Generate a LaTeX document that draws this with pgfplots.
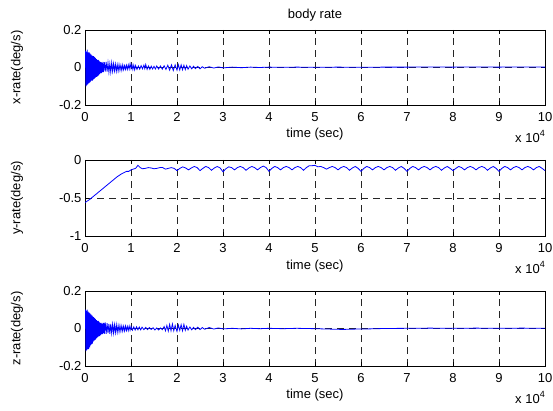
\documentclass[border=0pt]{standalone}
\usepackage{pgfplots}
\pgfplotsset{compat=1.18}
\usepackage{fontspec}
\setmainfont{Liberation Sans}

\newcommand{\lbl}{\fontsize{13}{15}\selectfont}
\newcommand{\tenfour}{\lbl x 10\raisebox{6pt}{\fontsize{9}{9}\selectfont 4}}

\pgfplotsset{
 mystyle/.style={
  scale only axis, width=460pt, height=75pt,
  xmin=0, xmax=10, xtick={0,1,...,10},
  clip mode=individual,
  grid=major,
  major grid style={black!85, dash pattern=on 7pt off 5pt, line width=0.5pt},
  tick align=inside, major tick length=4pt,
  axis line style={line width=0.9pt},
  every tick/.style={black, line width=0.6pt},
  tick label style={font=\lbl},
  label style={font=\lbl},
  title style={font=\lbl},
  /pgf/number format/assume math mode=true,
  xticklabel style={yshift=-4pt},
  xlabel={time (sec)},
  xlabel style={at={(axis description cs:0.5,-0.39)}, anchor=center},
  ylabel style={at={(axis description cs:-0.148,0.5)}, anchor=center},
 }
}

\begin{document}
\begin{tikzpicture}
\useasboundingbox (0,0) rectangle (553pt,-411pt);

% ---------- x-rate ----------
\begin{axis}[mystyle, at={(85pt,-30pt)}, anchor=north west,
  ymin=-0.2, ymax=0.2, ytick={-0.2,0,0.2}, yticklabels={-0.2,0,0.2},
  ylabel={x-rate(deg/s)},
  title={body rate}, title style={at={(axis description cs:0.5,1.12)}, anchor=center}]
\addplot[blue, line width=0.8pt] coordinates {
(0,0)(0.01,0.09)(0.02,-0.1)(0.03,0.085)(0.04,-0.095)(0.05,0.095)(0.06,-0.09)(0.07,0.08)(0.08,-0.085)(0.09,0.08)
(0.1,-0.08)(0.11,0.075)(0.12,-0.075)(0.13,0.07)(0.14,-0.07)(0.15,0.065)(0.16,-0.07)(0.17,0.06)(0.18,-0.065)(0.19,0.06)
(0.2,-0.06)(0.21,0.055)(0.22,-0.055)(0.23,0.05)(0.24,-0.05)(0.25,0.045)(0.26,-0.05)(0.27,0.04)(0.28,-0.045)(0.29,0.04)
(0.3,-0.04)(0.31,0.035)(0.32,-0.035)(0.33,0.03)(0.34,-0.03)(0.35,0.028)(0.36,-0.03)(0.37,0.025)(0.38,-0.025)(0.39,0.03)
(0.4,-0.025)(0.42,0.028)(0.44,-0.022)(0.46,0.03)(0.48,-0.022)(0.5,0.025)(0.52,-0.025)(0.54,0.02)(0.56,-0.024)(0.58,0.025)
(0.6,-0.02)(0.62,0.02)(0.64,-0.018)(0.66,0.018)(0.68,-0.02)(0.7,0.015)(0.72,-0.018)(0.74,0.016)(0.76,-0.015)(0.78,0.012)
(0.8,-0.015)(0.82,0.014)(0.84,-0.012)(0.86,0.01)(0.88,-0.01)(0.9,0.012)(0.92,-0.01)(0.94,0.014)(0.96,-0.008)(0.98,0.02)
(1,-0.006)(1.02,0.016)(1.04,-0.01)(1.06,0.012)(1.08,-0.012)(1.1,0.01)(1.13,-0.01)(1.16,0.008)(1.19,-0.009)(1.22,0.01)
(1.25,-0.007)(1.28,0.012)(1.3,-0.006)(1.32,0.016)(1.35,-0.01)(1.38,0.008)(1.41,-0.01)(1.44,0.007)(1.47,-0.008)(1.5,0.006)
(1.53,-0.008)(1.56,0.008)(1.6,-0.008)(1.64,0.008)(1.68,-0.009)(1.72,0.009)(1.76,-0.01)(1.8,0.012)(1.84,-0.014)(1.88,0.014)
(1.92,-0.016)(1.96,0.014)(2,-0.014)(2.03,0.015)(2.06,-0.013)(2.09,0.014)(2.12,-0.012)(2.15,0.012)(2.18,-0.011)(2.21,0.01)
(2.24,-0.009)(2.28,0.008)(2.32,-0.007)(2.36,0.007)(2.4,-0.006)(2.45,0.006)(2.5,-0.007)(2.55,0.004)(2.6,-0.004)(2.7,0.004)
(2.8,-0.003)(2.9,0.003)(3,-0.002)(3.2,0.002)(3.4,-0.001)(3.6,0.002)(3.8,0)(4,0.002)(4.3,0.001)(4.6,0.002)
(5,0.001)(5.5,0.002)(6,0.001)(6.5,0.002)(7,0.002)(7.5,0.003)(8,0.002)(8.5,0.003)(9,0.002)(9.5,0.003)(10,0.002)
};
\node[anchor=north east, inner sep=0pt] at (rel axis cs:1,0) [yshift=-25pt] {\tenfour};
\end{axis}

% ---------- y-rate ----------
\begin{axis}[mystyle, at={(85pt,-160pt)}, anchor=north west, height=76pt,
  ymin=-1, ymax=0, ytick={-1,-0.5,0}, yticklabels={-1,-0.5,0},
  ylabel={y-rate(deg/s)}]
\addplot[blue, line width=0.8pt] coordinates {
(0,-0.56)(0.1,-0.52)(0.2,-0.47)(0.3,-0.42)(0.4,-0.37)(0.5,-0.32)(0.6,-0.27)(0.7,-0.22)(0.8,-0.18)(0.9,-0.15)
(0.95,-0.15)(1.0,-0.13)(1.05,-0.12)(1.1,-0.11)(1.15,-0.07)(1.2,-0.1)
(1.25,-0.115)(1.3125,-0.11)(1.375,-0.1)(1.4375,-0.105)
(1.5,-0.115)(1.5625,-0.11)(1.625,-0.1)(1.6875,-0.1)
(1.75,-0.12)(1.8125,-0.11)(1.875,-0.1)(1.9375,-0.11)
(2,-0.14)(2.0625,-0.11)(2.125,-0.09)(2.1875,-0.105)
(2.25,-0.13)(2.3125,-0.105)(2.375,-0.085)(2.4375,-0.1)
(2.5,-0.14)(2.5625,-0.11)(2.625,-0.085)(2.6875,-0.1)
(2.75,-0.135)(2.8125,-0.105)(2.875,-0.085)(2.9375,-0.105)
(3,-0.155)(3.0625,-0.115)(3.125,-0.09)(3.1875,-0.1)
(3.25,-0.13)(3.3125,-0.1)(3.375,-0.085)(3.4375,-0.1)
(3.5,-0.135)(3.5625,-0.105)(3.625,-0.085)(3.6875,-0.1)
(3.75,-0.13)(3.8125,-0.1)(3.875,-0.08)(3.9375,-0.1)
(4,-0.15)(4.0625,-0.11)(4.125,-0.085)(4.1875,-0.1)
(4.25,-0.13)(4.3125,-0.1)(4.375,-0.085)(4.4375,-0.1)
(4.5,-0.13)(4.5625,-0.1)(4.625,-0.085)(4.6875,-0.1)
(4.75,-0.135)(4.8125,-0.1)(4.875,-0.075)(4.9375,-0.075)
(5,-0.07)(5.0625,-0.09)(5.125,-0.085)(5.1875,-0.1)
(5.25,-0.12)(5.3125,-0.1)(5.375,-0.085)(5.4375,-0.1)
(5.5,-0.13)(5.5625,-0.1)(5.625,-0.085)(5.6875,-0.1)
(5.75,-0.135)(5.8125,-0.105)(5.875,-0.085)(5.9375,-0.11)
(6,-0.15)(6.0625,-0.11)(6.125,-0.085)(6.1875,-0.1)
(6.25,-0.13)(6.3125,-0.1)(6.375,-0.085)(6.4375,-0.1)
(6.5,-0.13)(6.5625,-0.1)(6.625,-0.085)(6.6875,-0.1)
(6.75,-0.135)(6.8125,-0.105)(6.875,-0.085)(6.9375,-0.11)
(7,-0.15)(7.0625,-0.11)(7.125,-0.085)(7.1875,-0.1)
(7.25,-0.13)(7.3125,-0.1)(7.375,-0.085)(7.4375,-0.1)
(7.5,-0.13)(7.5625,-0.1)(7.625,-0.085)(7.6875,-0.1)
(7.75,-0.135)(7.8125,-0.105)(7.875,-0.085)(7.9375,-0.11)
(8,-0.14)(8.0625,-0.11)(8.125,-0.085)(8.1875,-0.1)
(8.25,-0.13)(8.3125,-0.1)(8.375,-0.085)(8.4375,-0.1)
(8.5,-0.13)(8.5625,-0.1)(8.625,-0.085)(8.6875,-0.1)
(8.75,-0.135)(8.8125,-0.105)(8.875,-0.085)(8.9375,-0.11)
(9,-0.15)(9.0625,-0.11)(9.125,-0.085)(9.1875,-0.1)
(9.25,-0.13)(9.3125,-0.1)(9.375,-0.085)(9.4375,-0.1)
(9.5,-0.13)(9.5625,-0.1)(9.625,-0.085)(9.6875,-0.1)
(9.75,-0.13)(9.8125,-0.1)(9.875,-0.085)(9.9375,-0.11)(10,-0.14)
};
\node[anchor=north east, inner sep=0pt] at (rel axis cs:1,0) [yshift=-25pt] {\tenfour};
\end{axis}

% ---------- z-rate ----------
\begin{axis}[mystyle, at={(85pt,-291pt)}, anchor=north west,
  ymin=-0.2, ymax=0.2, ytick={-0.2,0,0.2}, yticklabels={-0.2,0,0.2},
  ylabel={z-rate(deg/s)}]
\addplot[blue, line width=0.8pt] coordinates {
(0,0)(0.01,0.1)(0.02,-0.12)(0.03,0.095)(0.04,-0.115)(0.05,0.1)(0.06,-0.11)(0.07,0.09)(0.08,-0.11)(0.09,0.085)
(0.1,-0.1)(0.11,0.08)(0.12,-0.09)(0.13,0.075)(0.14,-0.085)(0.15,0.07)(0.16,-0.08)(0.17,0.065)(0.18,-0.07)(0.19,0.06)
(0.2,-0.065)(0.21,0.055)(0.22,-0.06)(0.23,0.05)(0.24,-0.055)(0.25,0.045)(0.26,-0.05)(0.27,0.04)(0.28,-0.045)(0.29,0.04)
(0.3,-0.04)(0.31,0.035)(0.32,-0.04)(0.33,0.03)(0.34,-0.035)(0.35,0.03)(0.36,-0.03)(0.37,0.025)(0.38,-0.03)(0.39,0.03)
(0.4,-0.025)(0.41,0.03)(0.42,-0.028)(0.44,0.032)(0.46,-0.028)(0.48,0.028)(0.5,-0.025)(0.52,0.025)(0.54,-0.028)(0.56,0.024)
(0.58,-0.025)(0.6,0.022)(0.62,-0.024)(0.64,0.02)(0.66,-0.022)(0.68,0.02)(0.7,-0.02)(0.72,0.016)(0.74,-0.018)(0.76,0.016)
(0.78,-0.014)(0.8,0.014)(0.82,-0.014)(0.84,0.012)(0.86,-0.013)(0.88,0.013)(0.9,-0.011)(0.92,0.011)(0.94,-0.011)(0.96,0.013)
(0.98,-0.009)(1,0.011)(1.03,-0.009)(1.06,0.009)(1.09,-0.008)(1.12,0.009)(1.15,-0.007)(1.18,0.008)(1.21,-0.007)(1.24,0.007)
(1.28,-0.006)(1.32,0.006)(1.36,-0.006)(1.4,0.005)(1.44,-0.005)(1.48,0.004)(1.52,-0.008)(1.56,0.003)(1.6,-0.008)(1.64,0.003)
(1.68,-0.006)(1.72,0.01)(1.75,-0.012)(1.78,0.016)(1.81,-0.014)(1.84,0.022)(1.87,-0.012)(1.9,0.024)(1.93,-0.012)(1.96,0.016)
(2,-0.015)(2.03,0.018)(2.06,-0.01)(2.09,0.02)(2.12,-0.012)(2.15,0.022)(2.18,-0.01)(2.21,0.012)(2.24,-0.008)(2.28,0.008)
(2.32,-0.007)(2.36,0.006)(2.4,-0.006)(2.45,0.007)(2.5,-0.006)(2.55,0.005)(2.6,-0.004)(2.7,0.005)(2.8,-0.003)(2.9,0.003)
(3,-0.002)(3.2,0.001)(3.4,-0.002)(3.6,0.001)(3.8,-0.001)(4,0.001)(4.3,-0.001)(4.6,0.001)(5,-0.001)(5.3,-0.003)
(5.6,-0.005)(5.9,-0.003)(6.2,-0.002)(6.5,0)(7,0.001)(7.5,0.002)(8,0.001)(8.5,0.002)(9,0.001)(9.5,0.002)(10,0.001)
};
\node[anchor=north east, inner sep=0pt] at (rel axis cs:1,0) [yshift=-25pt] {\tenfour};
\end{axis}
\end{tikzpicture}
\end{document}
